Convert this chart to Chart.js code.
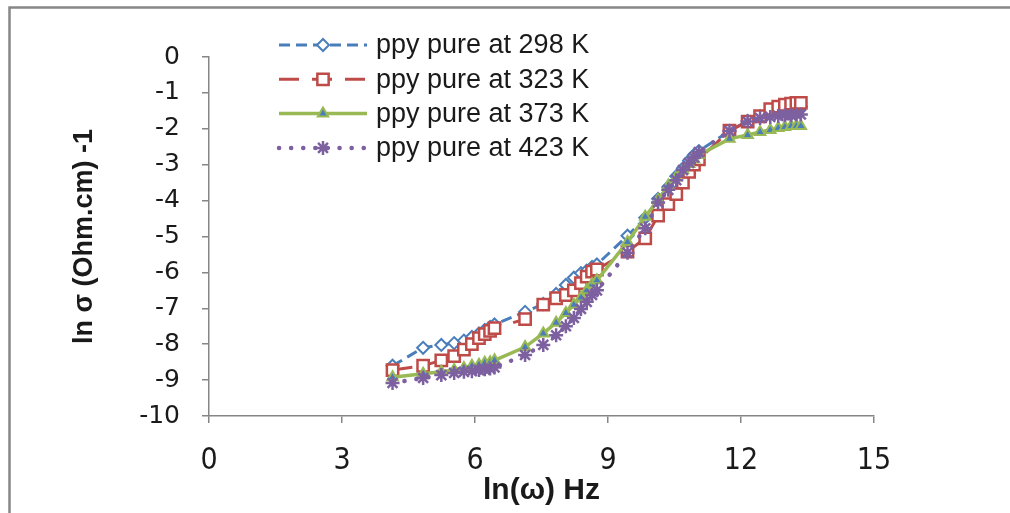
<!DOCTYPE html>
<html>
<head>
<meta charset="utf-8">
<script src="https://cdn.jsdelivr.net/npm/chart.js@4/dist/chart.umd.min.js"></script>
<style>
html,body{margin:0;padding:0;background:#fff;}
canvas{display:block;}
</style>
</head>
<body>
<canvas id="c" width="1010" height="513"></canvas>
<script>
// ln(omega) values (Hz)
const lnOmega = [4.14,4.83,5.24,5.53,5.75,5.93,6.09,6.22,6.34,6.44,
                 7.13,7.54,7.83,8.05,8.23,8.39,8.52,8.64,8.75,
                 9.44,9.84,10.13,10.36,10.54,10.69,10.83,10.94,11.05,
                 11.74,12.15,12.43,12.66,12.84,12.99,13.13,13.25,13.35];

const sigma298 = [-8.60,-8.10,-8.02,-7.97,-7.90,-7.80,-7.70,-7.60,-7.52,-7.45,
                  -7.10,-6.88,-6.60,-6.35,-6.15,-6.02,-5.95,-5.85,-5.78,
                  -4.98,-4.48,-3.95,-3.62,-3.32,-3.10,-2.88,-2.73,-2.62,
                  -2.06,-1.78,-1.65,-1.55,-1.50,-1.45,-1.42,-1.40,-1.38];

const sigma323 = [-8.72,-8.60,-8.45,-8.33,-8.15,-8.00,-7.83,-7.72,-7.63,-7.55,
                  -7.30,-6.90,-6.72,-6.63,-6.50,-6.30,-6.12,-5.98,-5.92,
                  -5.42,-5.05,-4.42,-4.10,-3.82,-3.50,-3.20,-3.00,-2.85,
                  -2.05,-1.80,-1.65,-1.45,-1.38,-1.33,-1.30,-1.28,-1.28];

const sigma373 = [-8.92,-8.82,-8.77,-8.72,-8.66,-8.60,-8.57,-8.52,-8.50,-8.45,
                  -8.08,-7.70,-7.40,-7.13,-6.90,-6.70,-6.50,-6.33,-6.22,
                  -5.15,-4.45,-3.98,-3.58,-3.35,-3.15,-2.98,-2.85,-2.73,
                  -2.28,-2.17,-2.09,-2.03,-1.98,-1.95,-1.92,-1.92,-1.92];

const sigma423 = [-9.08,-8.94,-8.86,-8.80,-8.77,-8.75,-8.72,-8.70,-8.68,-8.65,
                  -8.30,-8.02,-7.75,-7.50,-7.27,-7.02,-6.82,-6.63,-6.50,
                  -5.45,-4.77,-4.05,-3.70,-3.43,-3.15,-2.95,-2.80,-2.65,
                  -2.06,-1.80,-1.70,-1.67,-1.64,-1.62,-1.62,-1.60,-1.60];

const seriesLabels = ['ppy pure at 298 K','ppy pure at 323 K','ppy pure at 373 K','ppy pure at 423 K'];
const xTicks = [0,3,6,9,12,15];
const yTicks = [0,-1,-2,-3,-4,-5,-6,-7,-8,-9,-10];
const xTitle = 'ln(ω) Hz';
const yTitle = 'ln σ (Ohm.cm) -1';

const pts = ys => lnOmega.map((x,i)=>({x:x,y:ys[i]}));

const AXIS = '#868686';

const frame = {
  id:'frame',
  beforeDraw(chart){
    const c = chart.ctx;
    c.save();
    c.fillStyle='#fff'; c.fillRect(0,0,chart.width,chart.height);
    c.strokeStyle='#878787'; c.lineWidth=2.5;
    c.beginPath();
    c.moveTo(9.5, 520); c.lineTo(9.5, 7.5); c.lineTo(1020, 7.5);
    c.stroke();
    c.restore();
  }
};

const legendPlugin = {
  id:'customLegend',
  afterDraw(chart){
    const c = chart.ctx;
    const x0 = 279, x1 = 367, tx = 376, top = 45, step = 34.3;
    chart.data.datasets.forEach((ds,i)=>{
      const y = top + i*step;
      c.save();
      c.strokeStyle = ds.borderColor;
      c.lineWidth = ds.borderWidth;
      c.lineCap = ds.borderCapStyle || 'butt';
      c.setLineDash(ds.borderDash || []);
      c.beginPath(); c.moveTo(x0,y); c.lineTo(x1,y); c.stroke();
      c.setLineDash([]);
      c.lineCap = 'butt';
      c.fillStyle = ds.pointBackgroundColor;
      c.strokeStyle = ds.pointBorderColor;
      c.lineWidth = ds.pointBorderWidth;
      Chart.helpers.drawPoint(c, {
        pointStyle: ds.pointStyle, radius: ds.pointRadius, rotation:0,
        borderWidth: ds.pointBorderWidth
      }, (x0+x1)/2, y);
      c.fillStyle = '#1a1a1a';
      c.font = '27px "Liberation Sans", Arial, sans-serif';
      c.textBaseline = 'middle';
      c.textAlign = 'left';
      c.fillText(seriesLabels[i], tx, y+1);
      c.restore();
    });
  }
};

new Chart(document.getElementById('c'), {
  type:'line',
  data:{
    datasets:[
      {label:seriesLabels[0], data:pts(sigma298), order:4,
       borderColor:'#4A7EBB', borderWidth:3, borderDash:[11,6],
       pointStyle:'rectRot', pointRadius:6, pointBorderWidth:2,
       pointBackgroundColor:'#ffffff', pointBorderColor:'#4A7EBB'},
      {label:seriesLabels[1], data:pts(sigma323), order:3,
       borderColor:'#BE4B48', borderWidth:3, borderDash:[20,13],
       pointStyle:'rect', pointRadius:8, pointBorderWidth:2.5,
       pointBackgroundColor:'#ffffff', pointBorderColor:'#BE4B48'},
      {label:seriesLabels[2], data:pts(sigma373), order:2,
       borderColor:'#98B954', borderWidth:3.5, borderDash:[],
       pointStyle:'triangle', pointRadius:6, pointBorderWidth:2,
       pointBackgroundColor:'#4A7EBB', pointBorderColor:'#98B954'},
      {label:seriesLabels[3], data:pts(sigma423), order:1,
       borderColor:'#7D60A0', borderWidth:4.5, borderDash:[0.1,12], borderCapStyle:'round',
       pointStyle:'star', pointRadius:7, pointBorderWidth:2.5,
       pointBackgroundColor:'#7D60A0', pointBorderColor:'#7D60A0'}
    ]
  },
  options:{
    responsive:false,
    animation:false,
    events:[],
    layout:{padding:{left:0,right:136,top:57,bottom:0}},
    plugins:{legend:{display:false}, tooltip:{enabled:false}},
    elements:{line:{tension:0, fill:false}},
    scales:{
      x:{
        type:'linear', min:0, max:15,
        afterBuildTicks(s){ s.ticks = xTicks.map(v=>({value:v})); },
        afterFit(s){ s.height = 97; },
        grid:{display:true, drawOnChartArea:false, drawTicks:true, tickLength:7, color:AXIS, lineWidth:1.5},
        border:{display:true, color:AXIS, width:1.5},
        ticks:{color:'#1a1a1a', padding:20, maxRotation:0,
               font:{family:'"Liberation Sans Narrow","DejaVu Sans Condensed",sans-serif', size:30}},
        title:{display:true, text:xTitle, color:'#1a1a1a', padding:{top:0,bottom:4},
               font:{family:'"Liberation Sans Narrow","Liberation Sans",sans-serif', size:30, weight:'bold'}}
      },
      y:{
        type:'linear', min:-10, max:0,
        afterBuildTicks(s){ s.ticks = yTicks.map(v=>({value:v})); },
        afterFit(s){ s.width = 209; },
        grid:{display:true, drawOnChartArea:false, drawTicks:true, tickLength:7, color:AXIS, lineWidth:1.5},
        border:{display:true, color:AXIS, width:1.5},
        ticks:{color:'#1a1a1a', padding:22,
               font:{family:'"DejaVu Sans",sans-serif', size:25}},
        title:{display:true, text:yTitle, color:'#1a1a1a', padding:{top:68,bottom:0},
               font:{family:'"Liberation Sans",Arial,sans-serif', size:27, weight:'bold'}}
      }
    }
  },
  plugins:[frame, legendPlugin]
});
</script>
</body>
</html>
